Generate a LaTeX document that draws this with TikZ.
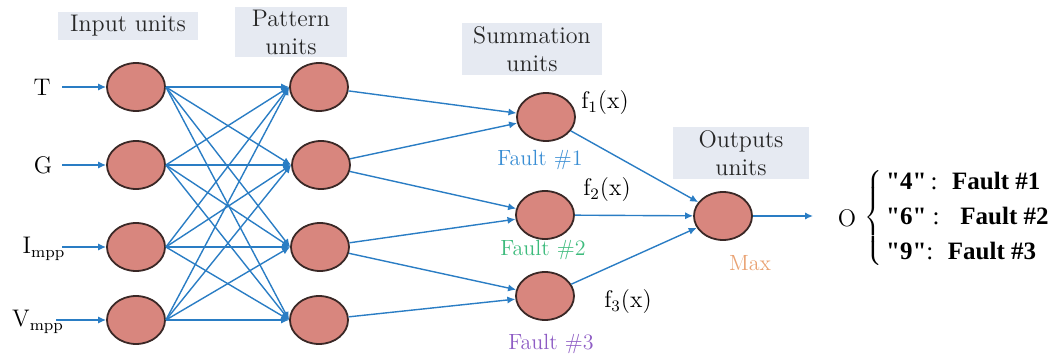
\documentclass[tikz,border=0pt]{standalone}
\usepackage{fontspec}
\newfontfamily\timesfont{Liberation Serif}
\usetikzlibrary{arrows.meta,positioning,calc,shapes.geometric}
\definecolor{wire}{HTML}{2A7DC4}
\definecolor{unitfill}{HTML}{D8867E}
\definecolor{unitline}{HTML}{3A2826}
\definecolor{headfill}{HTML}{E6EAF2}
\definecolor{faultA}{HTML}{3A8ED4}
\definecolor{faultB}{HTML}{3DBB7C}
\definecolor{faultC}{HTML}{8E5CC4}
\definecolor{maxcol}{HTML}{E9A273}
\tikzset{unit/.style={ellipse,draw=unitline,fill=unitfill,line width=0.9pt,
  minimum width=29pt,minimum height=24pt,inner sep=0pt},
  head/.style={fill=headfill,align=center,text=black!85,inner sep=1.5pt,
  font=\fontsize{12}{14}\selectfont},
  lbl/.style={font=\fontsize{12}{14}\selectfont,inner sep=1pt},
  flt/.style={font=\fontsize{11}{13}\selectfont,inner sep=1pt},
  arrow/.style={-{Latex[length=4pt,width=3.6pt]},draw=wire,line width=0.7pt}}

\begin{document}
\begin{tikzpicture}[x=0.5pt,y=-0.5pt]
\useasboundingbox (0,0) rectangle (1051,358);
% headers
\node[head,minimum width=70pt] (hin) at (128,26) {Input units};
\node[head,minimum width=56pt] (hpat) at (291,32) {Pattern\\units};
\node[head,minimum width=70pt] (hsum) at (532,49) {Summation\\units};
\node[head,minimum width=68pt] (hout) at (741,153) {Outputs\\units};
% input layer
\node[unit] (in1) at (136,87) {};
\node[unit] (in2) at (136,165) {};
\node[unit] (in3) at (136,247) {};
\node[unit] (in4) at (136,320) {};
\node[lbl] (lt) at (42,87) {T};
\node[lbl] (lg) at (43,165) {G};
\node[lbl] (li) at (44,249) {I$_{\mathrm{mpp}}$};
\node[lbl] (lv) at (38,322) {V$_{\mathrm{mpp}}$};
\coordinate (st) at (62,87);\coordinate (sg) at (62,165);
\coordinate (si) at (62,247);\coordinate (sv) at (56,320);
% pattern layer
\node[unit] (pat1) at (319,87) {};
\node[unit] (pat2) at (321,165) {};
\node[unit] (pat3) at (320,247) {};
\node[unit] (pat4) at (319,320) {};
% summation layer
\node[unit] (sum1) at (546,117) {};
\node[unit] (sum2) at (545,215) {};
\node[unit] (sum3) at (545,296) {};
\node[lbl] (f1) at (605,103) {f$_1$(x)};
\node[lbl] (f2) at (607,190) {f$_2$(x)};
\node[lbl] (f3) at (628,302) {f$_3$(x)};
\node[flt,text=faultA] (ft1) at (540,160) {Fault \#1};
\node[flt,text=faultB] (ft2) at (543,250) {Fault \#2};
\node[flt,text=faultC] (ft3) at (551,344) {Fault \#3};
% output
\node[unit] (out) at (723,216) {};
\node[flt,text=maxcol] (mx) at (750,263) {Max};
\coordinate (oend) at (813,216);
\node[lbl] (o) at (847,218) {O};
\node[anchor=west,inner sep=0pt,font=\fontsize{12.5}{17.5}\selectfont] (cls) at (864,218)
  {$\left\{\,\begin{tabular}{@{}l@{}}\timesfont\bfseries "4"\mdseries\,: \ \bfseries Fault \#1\\
  \timesfont\bfseries "6"\mdseries\ : \ \ \bfseries Fault \#2\\
  \timesfont\bfseries "9"\mdseries: \ \bfseries Fault \#3\end{tabular}\right.$};
% connectors
\draw[arrow] (st)--(in1.west);\draw[arrow] (sg)--(in2.west);
\draw[arrow] (si)--(in3.west);\draw[arrow] (sv)--(in4.west);
\draw[arrow] (in1.east)--(pat1.west);\draw[arrow] (in1.east)--(pat2.west);
\draw[arrow] (in1.east)--(pat3.west);\draw[arrow] (in1.east)--(pat4.west);
\draw[arrow] (in2.east)--(pat1.west);\draw[arrow] (in2.east)--(pat2.west);
\draw[arrow] (in2.east)--(pat3.west);\draw[arrow] (in2.east)--(pat4.west);
\draw[arrow] (in3.east)--(pat1.west);\draw[arrow] (in3.east)--(pat2.west);
\draw[arrow] (in3.east)--(pat3.west);\draw[arrow] (in3.east)--(pat4.west);
\draw[arrow] (in4.east)--(pat1.west);\draw[arrow] (in4.east)--(pat2.west);
\draw[arrow] (in4.east)--(pat3.west);\draw[arrow] (in4.east)--(pat4.west);
\draw[arrow] (pat1)--(sum1);\draw[arrow] (pat2)--(sum1);
\draw[arrow] (pat2)--(sum2);\draw[arrow] (pat3)--(sum2);
\draw[arrow] (pat3)--(sum3);\draw[arrow] (pat4)--(sum3);
\draw[arrow] (sum1)--(out);\draw[arrow] (sum2)--(out);
\draw[arrow] (sum3)--(out);\draw[arrow] (out)--(oend);
\end{tikzpicture}
\end{document}
